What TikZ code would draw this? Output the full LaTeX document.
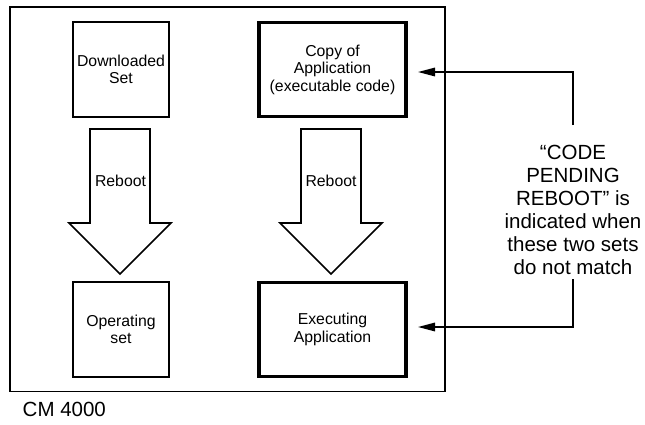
\documentclass[tikz,border=0pt]{standalone}
\usepackage{fontspec}
\setmainfont{Liberation Sans}
\usetikzlibrary{arrows.meta}
\tikzset{
  boxtext/.style={font=\fontsize{15.8}{17.5}\selectfont, align=center, inner sep=0pt},
  thinbox/.style={boxtext, draw, line width=1.7pt, minimum width=96.5pt, minimum height=95.5pt},
  thickbox/.style={boxtext, draw, line width=3.8pt, minimum width=147pt, minimum height=94pt},
  blockarrow/.style={draw, line width=1.6pt, line join=miter, fill=white},
  conn/.style={line width=1.6pt, -{Triangle[length=17pt,width=8.5pt]}},
  bigtext/.style={font=\fontsize{20.5}{22.9}\selectfont, align=center, inner sep=0pt},
}
\begin{document}
\begin{tikzpicture}[x=1pt,y=-1pt]
\useasboundingbox (0,0) rectangle (645,424);
% outer frame
\draw[line width=1.8pt] (10,7) rectangle (445,391.5);
% boxes
\node[thinbox]  (ds) at (121,69.5)   {Downloaded\\Set};
\node[thickbox] (ca) at (332.5,69.5) {Copy of\\Application\\(executable code)};
\node[thinbox]  (os) at (121,329.5)  {Operating\\set};
\node[thickbox] (ea) at (332.5,329.5) {Executing\\Application};
% block arrows
\draw[blockarrow] (90,129) -- (150,129) -- (150,223) -- (171,223) -- (120,274) -- (69,223) -- (90,223) -- cycle;
\draw[blockarrow] (301,129) -- (361,129) -- (361,223) -- (382,223) -- (331,274) -- (280,223) -- (301,223) -- cycle;
\node[boxtext] (rb1) at (120.5,181) {Reboot};
\node[boxtext] (rb2) at (331,181) {Reboot};
% note
\node[bigtext] (note) at (573,210) {“CODE\\PENDING\\REBOOT” is\\indicated when\\these two sets\\do not match};
\coordinate (nt) at (573,125);
\coordinate (nb) at (573,279);
\coordinate (tipA) at (418,72);
\coordinate (tipB) at (418,327);
\draw[conn] (nt) |- (tipA);
\draw[conn] (nb) |- (tipB);
% label
\node[bigtext, anchor=base west] (cm) at (22.5,416.7) {CM 4000};
\end{tikzpicture}
\end{document}
